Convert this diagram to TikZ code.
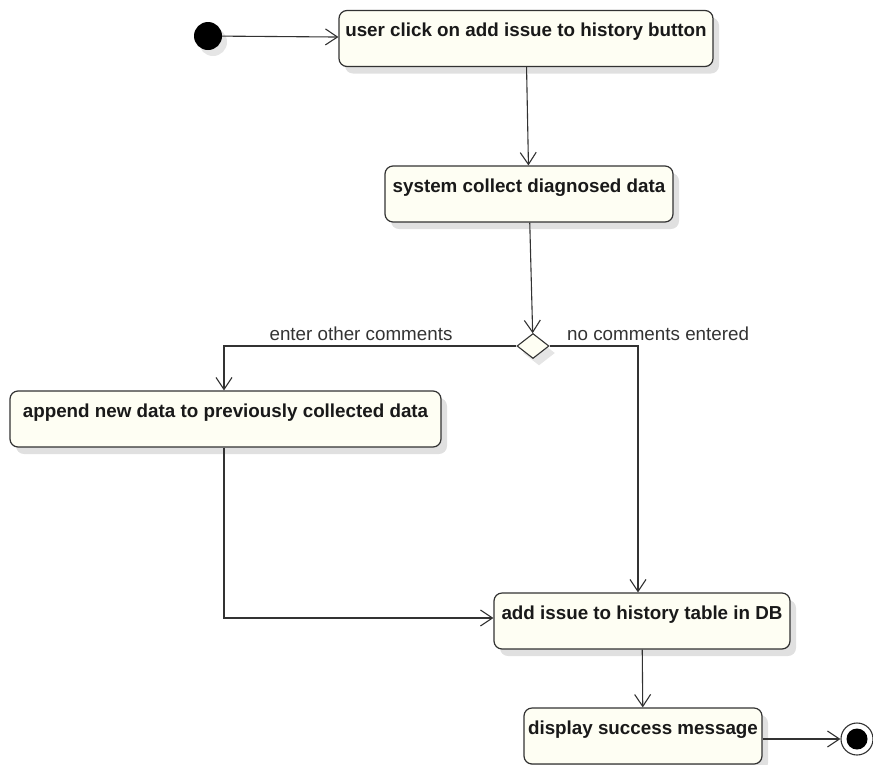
\documentclass[tikz,border=0pt]{standalone}
\usepackage{fontspec}
\setmainfont{Liberation Sans}
\usetikzlibrary{arrows.meta,shapes.geometric,shadows}
\definecolor{actfill}{RGB}{254,254,243}
\definecolor{edgegray}{RGB}{50,50,50}
\begin{document}
\begin{tikzpicture}[x=1pt,y=-1pt,
  action/.style={draw=edgegray, line width=1.2pt, fill=actfill, rounded corners=8pt,
    minimum height=56pt, inner xsep=2pt, inner ysep=6pt,
    text height=20pt, text depth=24pt,
    font=\fontsize{18.8pt}{21pt}\selectfont\bfseries, text=black!90,
    drop shadow={shadow xshift=6pt, shadow yshift=-7pt, fill=black!12, opacity=1}},
  decision/.style={diamond, draw=edgegray, line width=1.1pt, fill=actfill,
    minimum width=32pt, minimum height=25pt, inner sep=0pt,
    drop shadow={shadow xshift=6pt, shadow yshift=-7pt, fill=black!10, opacity=1}},
  flow/.style={draw=edgegray, line width=1.1pt,
    -{Straight Barb[length=12pt, width=16pt, line width=1.1pt]}},
  guard/.style={font=\fontsize{18.8pt}{21pt}\selectfont, text=black!80, inner sep=0pt}
]
\useasboundingbox (0,0) rectangle (873,764);

% initial and final states
\node[circle, fill=black, minimum size=28pt, inner sep=0pt,
  drop shadow={shadow xshift=5pt, shadow yshift=-6pt, fill=black!10, opacity=1}] (start) at (208,36) {};
\node[circle, draw=edgegray, line width=1.1pt, fill=white, minimum size=32pt, inner sep=0pt] (final) at (857,739) {};
\node[circle, fill=black, minimum size=21pt, inner sep=0pt] (finaldot) at (857,739) {};

% actions
\node[action, minimum width=374pt] (click)   at (526,38.5) {user click on add issue to history button};
\node[action, minimum width=288pt] (collect) at (529,194)  {system collect diagnosed data};
\node[decision] (choice) at (533,346) {};
\node[action, minimum width=431pt] (append)  at (225.5,419) {append new data to previously collected data};
\node[action, minimum width=296pt] (store)   at (642,621)  {add issue to history table in DB};
\node[action, minimum width=238pt] (success) at (643,736)  {display success message};

% guards
\node[guard] (gleft)  at (361,334) {enter other comments};
\node[guard, anchor=west] (gright) at (567,334) {no comments entered};

% control flow
\draw[flow] (start) -- (click);
\draw[flow] (click) -- (collect);
\draw[flow] (collect) -- (choice);
\draw[flow] (choice.west) -| ([xshift=-1.5pt]append.north);
\draw[flow] (choice.east) -| ([xshift=-4pt]store.north);
\draw[flow] ([xshift=-1.5pt]append.south) |- ([yshift=3pt]store.west);
\draw[flow] (store) -- (success);
\draw[flow] (success.east |- final) -- (final);
\end{tikzpicture}
\end{document}
